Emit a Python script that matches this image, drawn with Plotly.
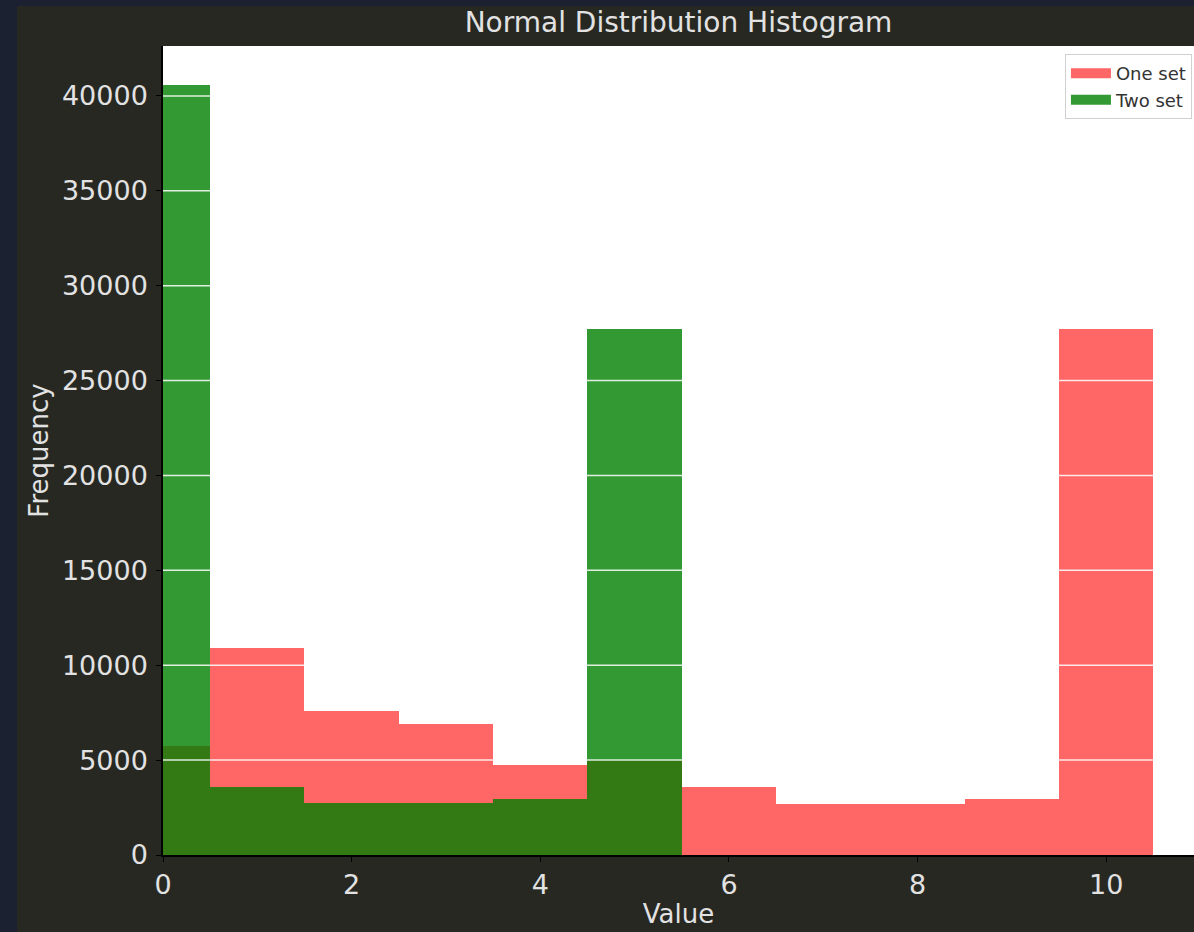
import plotly.graph_objects as go

# Histogram counts per unit-width bin, bins centred on the integers 0..10
bin_centers = [0, 1, 2, 3, 4, 5, 6, 7, 8, 9, 10]
one_set_counts = [5750, 10920, 7600, 6900, 4760, 5000, 3570, 2700, 2700, 2970, 27700]
two_set_counts = [40600, 3600, 2720, 2720, 2970, 27700, 0, 0, 0, 0, 0]

x_ticks = [0, 2, 4, 6, 8, 10]
y_ticks = [0, 5000, 10000, 15000, 20000, 25000, 30000, 35000, 40000]

FONT = "DejaVu Sans"
TEXT = "#e2e2e2"
FIG_BG = "#272822"
PAGE_BG = "#1b2131"

ONE_COLOR = "rgba(255,0,0,0.6)"
TWO_COLOR = "rgba(0,128,0,0.8)"

fig = go.Figure()
fig.add_trace(go.Bar(
    x=bin_centers, y=one_set_counts, width=1, name="One set", showlegend=False,
    marker=dict(color=ONE_COLOR, line=dict(width=0)),
))
fig.add_trace(go.Bar(
    x=bin_centers, y=two_set_counts, width=1, name="Two set", showlegend=False,
    marker=dict(color=TWO_COLOR, line=dict(width=0)),
))

# Legend entries drawn as wide colour patches
for name, col in [("One set", "#ff6666"), ("Two set", "#339933")]:
    fig.add_trace(go.Scatter(x=[None], y=[None], mode="lines", name=name,
                             line=dict(color=col, width=13)))

# White horizontal grid lines drawn over the bars
for t in y_ticks[1:]:
    fig.add_shape(type="line", xref="paper", yref="y", x0=0, x1=1, y0=t, y1=t,
                  line=dict(color="rgba(255,255,255,0.85)", width=1.5), layer="above")

# Page strips around the dark figure panel
fig.add_shape(type="rect", xref="paper", yref="paper",
              x0=-0.2, x1=-0.1416, y0=-0.2, y1=1.2,
              fillcolor=PAGE_BG, line=dict(width=0), layer="below")
fig.add_shape(type="rect", xref="paper", yref="paper",
              x0=-0.2, x1=1.05, y0=1.0495, y1=1.2,
              fillcolor=PAGE_BG, line=dict(width=0), layer="below")

fig.update_layout(
    width=1194, height=932,
    margin=dict(l=163, r=0, t=46, b=77),
    paper_bgcolor=FIG_BG,
    plot_bgcolor="white",
    barmode="overlay",
    bargap=0,
    font=dict(family=FONT, size=27, color=TEXT),
    title=dict(text="Normal Distribution Histogram", xref="paper", x=0.5,
               xanchor="center", y=0.976, yanchor="middle",
               font=dict(size=28, color=TEXT)),
    legend=dict(x=0.998, y=0.99, xanchor="right", yanchor="top",
                bgcolor="white", bordercolor="#d0d0d0", borderwidth=1,
                font=dict(size=18, color="#333333"), itemwidth=40,
                tracegroupgap=0),
    showlegend=True,
)

fig.update_xaxes(
    range=[0, 10.93], tickvals=x_ticks, ticks="outside", ticklen=5,
    tickcolor="black", showline=True, linecolor="black", linewidth=1.5,
    showgrid=False, zeroline=False,
    title=dict(text="Value", standoff=6, font=dict(size=26, color=TEXT)),
)
fig.update_yaxes(
    range=[0, 42630], tickvals=y_ticks, tickformat="d", ticks="outside", ticklen=5,
    tickcolor="black", showline=True, linecolor="black", linewidth=1.5,
    showgrid=False, zeroline=False, ticklabelstandoff=3,
    title=dict(text="Frequency", standoff=6, font=dict(size=26, color=TEXT)),
)

fig.write_html("out.html")
